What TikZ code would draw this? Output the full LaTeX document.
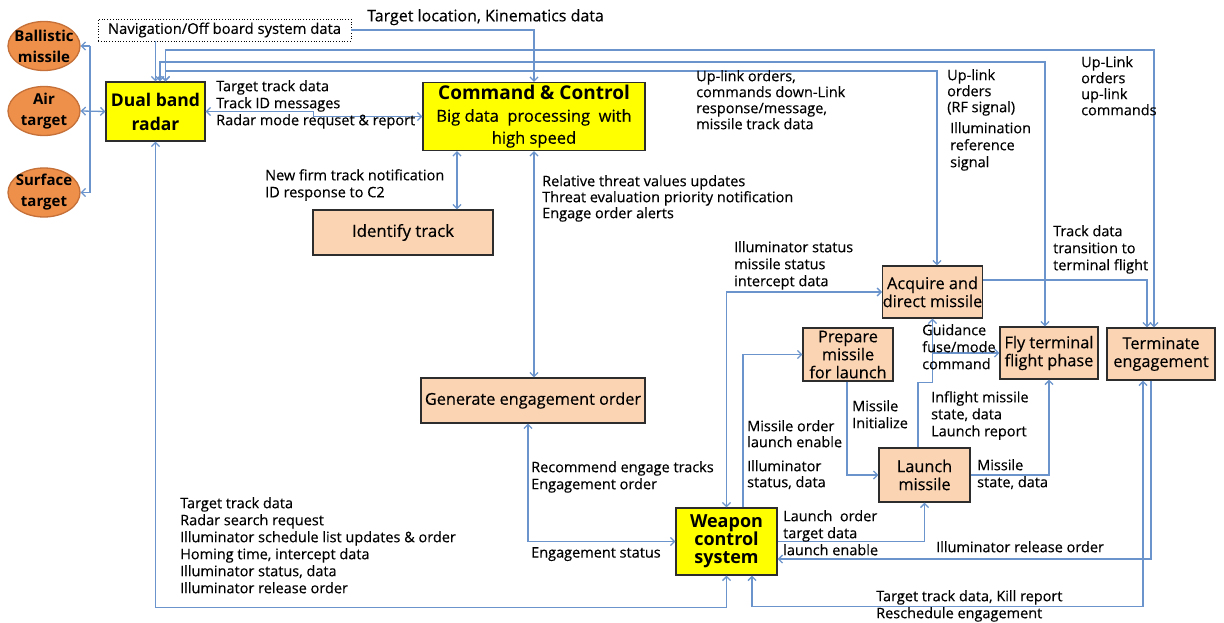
\documentclass[tikz,border=0pt]{standalone}
\usepackage{fontspec}
\setmainfont{Open Sans}[UprightFeatures={FakeBold=0.35}, BoldFeatures={FakeBold=0}]
\usetikzlibrary{arrows.meta,calc,shapes.geometric}

\definecolor{linkblue}{RGB}{108,148,204}
\definecolor{boxyellow}{RGB}{255,255,0}
\definecolor{peach}{RGB}{251,212,180}
\definecolor{targetorange}{RGB}{238,143,74}
\definecolor{targetedge}{RGB}{196,112,56}
\definecolor{boxedge}{RGB}{45,45,45}

\tikzset{
  link/.style={draw=linkblue, line width=1.3pt},
  >={Straight Barb[length=4pt,width=8pt]},
  corebox/.style={draw=boxedge, line width=1.3pt, fill=boxyellow, inner sep=0pt, align=center,
    font=\bfseries\fontsize{17.5}{24}\selectfont},
  taskbox/.style={draw=boxedge, line width=1.3pt, fill=peach, inner sep=0pt, align=center,
    font=\fontsize{16.3}{18}\selectfont},
  targetshape/.style={ellipse, draw=targetedge, line width=1.3pt, fill=targetorange,
    minimum width=72pt, minimum height=49pt, inner sep=0pt},
  targettext/.style={inner sep=0pt, align=center, font=\bfseries\fontsize{15}{21}\selectfont},
  lbl/.style={anchor=north west, inner sep=0pt, align=left, font=\fontsize{14.5}{17}\selectfont},
  lbltight/.style={lbl, font=\fontsize{14.5}{16}\selectfont},
}

\begin{document}
\begin{tikzpicture}[x=1pt,y=-1pt]
\fill[white] (0,0) rectangle (1224,623);
\useasboundingbox (0,0) rectangle (1224,623);

% ---- targets ----
\node[targetshape] (ball) at (44,46) {};
\node[targettext] (balltext) at (ball.center) {Ballistic\\missile};
\node[targetshape] (air) at (44,111) {};
\node[targettext] (airtext) at (air.center) {Air\\target};
\node[targetshape] (surf) at (44,192.5) {};
\node[targettext] (surftext) at (surf.center) {Surface\\target};

% ---- main blocks ----
\node[draw, dotted, line width=0.8pt, minimum width=253pt, minimum height=22pt, inner sep=0pt,
  font=\fontsize{14.8}{17}\selectfont] (nav) at (224.5,30) {Navigation/Off board system data};
\node[corebox, minimum width=99pt, minimum height=59pt] (radar) at (155.5,111.5) {Dual band\\radar};
\node[corebox, minimum width=222pt, minimum height=68pt, font=\bfseries\fontsize{19}{22}\selectfont] (cc) at (534,116.5)
  {Command \& Control\\{\mdseries\fontsize{16.5}{21}\selectfont Big data~ processing~ with}\\{\mdseries\fontsize{16.5}{21}\selectfont high speed}};
\node[taskbox, minimum width=180pt, minimum height=45pt, font=\fontsize{16.8}{18}\selectfont] (ident) at (403,232.5) {Identify track};
\node[taskbox, minimum width=224pt, minimum height=45pt] (gen) at (533,400.5) {Generate engagement order};
\node[taskbox, minimum width=99pt, minimum height=52pt] (acq) at (932.5,292) {Acquire and\\direct missile};
\node[taskbox, minimum width=90pt, minimum height=53pt] (prep) at (848,354.5) {Prepare\\missile\\for launch};
\node[taskbox, minimum width=98pt, minimum height=52pt] (fly) at (1049,353) {Fly terminal\\flight phase};
\node[taskbox, minimum width=108pt, minimum height=52pt] (term) at (1161,354) {Terminate\\engagement};
\node[taskbox, minimum width=91pt, minimum height=54pt] (launch) at (924.5,475) {Launch\\missile};
\node[corebox, minimum width=101pt, minimum height=67pt, font=\bfseries\fontsize{18}{18}\selectfont]
  (wcs) at (726.5,541.5) {Weapon\\control\\system};

% ---- bend points ----
\coordinate (busT) at (90,46);
\coordinate (busB) at (90,192.5);
\coordinate (upA) at (1154,50);
\coordinate (upB) at (1045,62);
\coordinate (upC) at (937,71);
\coordinate (idx) at ($(ident.north)+(54,0)$);
\coordinate (gd) at ($(acq.south)+(0,64)$);
\coordinate (rb) at ($(radar.south)+(0,466)$);

% ---- connectors ----
\draw[link] (busT) -- (busB);
\draw[link,->] (busT) -- (ball.east);
\draw[link,->] (busB) -- (surf.east);
\draw[link,<->] (air.east) -- (radar.west);

\draw[link,->] (nav.east) -| (cc.north);
\draw[link,->] (radar.north |- nav.south) -- (radar.north);

\draw[link,<->] ($(radar.north)+(10,0)$) |- (upA) -- ($(term.north)+(-7,0)$);
\draw[link,<->] ($(radar.north)+(4.5,0)$) |- (upB) -- ($(fly.north)+(-4,0)$);
\draw[link,<->] ($(radar.north)+(10,0)$) |- (upC) -- ($(acq.north)+(4.5,0)$);

\draw[link,<->] (radar.east) -- ++(108,0) |- (cc.west);
\draw[link,<->] (cc.south -| idx) -- (idx);
\draw[link,<->] (cc.south) -- (cc.south |- gen.north);
\draw[link,<->] ($(gen.south)+(-5,0)$) |- (wcs.west);
\draw[link,<->] (acq.west) -| (wcs.north);
\draw[link,->] ($(wcs.north)+(16.5,0)$) |- (prep.west);
\draw[link,->] ($(prep.south)+(-1,0)$) |- (launch.west);
\draw[link,->] ($(launch.north)+(-6.5,0)$) |- (gd) -- (acq.south);
\draw[link,->] (fly.west -| acq.south) -- (fly.west);
\draw[link,->] (launch.east) -| (fly.south);
\draw[link,->] (wcs.east) -| (launch.south);
\draw[link,->] ($(term.south)+(-10,0)$) |- ($(wcs.east)+(0,17.5)$);
\draw[link,<->] ($(wcs.south)+(25.5,0)$) -- ++(0,31) -| ($(term.south)+(-18,0)$);
\draw[link,<->] (radar.south) -- (rb) -| (wcs.south);
\draw[link,->] ($(acq.east)+(0,-12)$) -| ($(term.north)+(-14,0)$);

% ---- flow labels ----
\node[lbl, font=\fontsize{16}{17}\selectfont] (lkin) at (367,9) {Target location, Kinematics data};
\node[lbl] (ltrk) at (216,80) {Target track data\\Track ID messages\\Radar mode requset \& report};
\node[lbltight] (lup1) at (696,70) {Up-link orders,\\commands down-Link\\response/message,\\missile track data};
\node[lbltight] (lup2) at (947,69) {Up-link\\orders\\(RF signal)};
\node[lbl] (lillu) at (950,122) {Illumination\\reference\\signal};
\node[lbltight] (lup3) at (1081,56) {Up-Link\\orders\\up-link\\commands};
\node[lbl] (lfirm) at (265,169) {New firm track notification\\ID response to C2};
\node[lbltight] (lthr) at (542,175) {Relative threat values updates\\Threat evaluation priority notification\\Engage order alerts};
\node[lbl] (lill) at (734,241) {Illuminator status\\missile status\\intercept data};
\node[lbl] (ltrans) at (1053,225) {Track data\\transition to\\terminal flight};
\node[lbl] (lguid) at (922,324) {Guidance\\fuse/mode\\command};
\node[lbl] (linfl) at (931,391) {Inflight missile\\state, data\\Launch report};
\node[lbl] (linit) at (852,400) {Missile\\Initialize};
\node[lbltight] (lmord) at (747,420) {Missile order\\launch enable};
\node[lbltight] (lists) at (747,460) {Illuminator\\status, data};
\node[lbl] (lmst) at (977,459) {Missile\\state, data};
\node[lbl] (lrec) at (531,461) {Recommend engage tracks\\Engagement order};
\node[lbl] (lestat) at (531,547) {Engagement status};
\node[lbl] (llaunch) at (783,510) {Launch~ order\\target data\\launch enable};
\node[lbl] (lrel) at (936,541) {Illuminator release order};
\node[lbl] (lkill) at (876,590) {Target track data, Kill report\\Reschedule engagement};
\node[lbl] (lradar) at (180,497) {Target track data\\Radar search request\\Illuminator schedule list updates \& order\\Homing time, intercept data\\Illuminator status, data\\Illuminator release order};
\end{tikzpicture}
\end{document}
